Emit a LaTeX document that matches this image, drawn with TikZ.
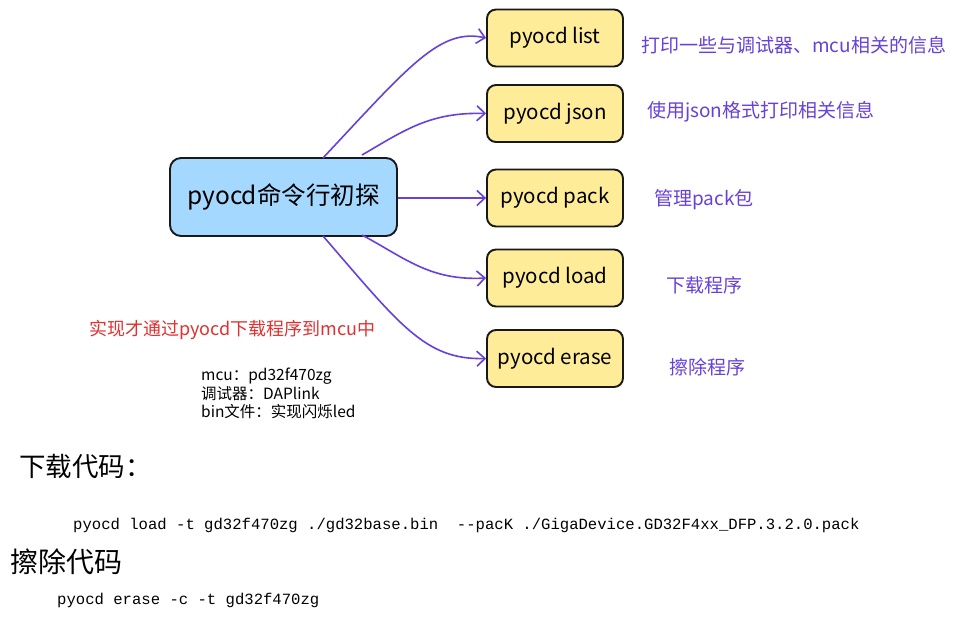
\documentclass[tikz,border=0pt]{standalone}
\usepackage{fontspec}
\setmainfont{Noto Sans CJK SC}
\newfontfamily\codefont{Liberation Mono}
\usetikzlibrary{arrows.meta}
\definecolor{bluefill}{HTML}{A5D8FF}
\definecolor{yellowfill}{HTML}{FFEC99}
\definecolor{violet}{HTML}{6741D9}
\definecolor{redtext}{HTML}{E03131}
\tikzset{
  mainbox/.style={draw=black!90, line width=1.9pt, rounded corners=11pt, fill=bluefill,
    minimum width=227pt, minimum height=78pt, inner sep=0pt, font=\fontsize{24.5}{27}\selectfont},
  cmdbox/.style={draw=black!90, line width=1.9pt, rounded corners=9pt, fill=yellowfill,
    minimum width=136pt, minimum height=57pt, inner sep=0pt, font=\fontsize{20.5}{23}\selectfont},
  conn/.style={draw=violet, line width=1.6pt, -{Straight Barb[length=8pt,width=15pt,line width=1.6pt]}},
  desc/.style={anchor=west, inner sep=0pt, text=violet, font=\fontsize{19}{22}\selectfont},
  note/.style={anchor=west, inner sep=0pt, text=redtext, font=\fontsize{18}{21}\selectfont},
  info/.style={anchor=north west, inner sep=0pt, align=left, font=\fontsize{15.5}{18.5}\selectfont},
  heading/.style={anchor=west, inner sep=0pt},
  code/.style={anchor=west, inner sep=0pt, font=\codefont\fontsize{15.6}{18}\selectfont},
}
\begin{document}
\begin{tikzpicture}[x=1pt,y=-1pt]
\useasboundingbox[fill=white] (0,0) rectangle (959,620);

\node[mainbox] (main) at (283.5,197) {pyocd命令行初探};

\node[cmdbox] (list)  at (555,38)    {pyocd list};
\node[cmdbox] (json)  at (555,113.5) {pyocd json};
\node[cmdbox] (pack)  at (555,198)   {pyocd pack};
\node[cmdbox] (load)  at (555,278)   {pyocd load};
\node[cmdbox] (erase) at (555,358.5) {pyocd erase};

\coordinate (s1) at (323,158);
\coordinate (s2) at (362,155);
\coordinate (s3) at (398,198);
\coordinate (s4) at (362,235);
\coordinate (s5) at (323,236);

\draw[conn] (s1) .. controls (410,65) and (440,28) .. (list.west);
\draw[conn] (s2) .. controls (405,130) and (430,112) .. (json.west);
\draw[conn] (s3) -- (pack.west);
\draw[conn] (s4) .. controls (405,258) and (430,281) .. (load.west);
\draw[conn] (s5) .. controls (400,325) and (425,360) .. (erase.west);

\node[desc] (d1) at (641,45)  {打印一些与调试器、mcu相关的信息};
\node[desc] (d2) at (647,112) {使用json格式打印相关信息};
\node[desc] (d3) at (654,200) {管理pack包};
\node[desc] (d4) at (666,285) {下载程序};
\node[desc] (d5) at (669,367) {擦除程序};

\node[note] (red) at (89,330) {实现才通过pyocd下载程序到mcu中};

\node[info] (inf) at (201,368) {mcu：pd32f470zg\\调试器：DAPlink\\bin文件：实现闪烁led};

\node[heading, font=\fontsize{26.5}{29}\selectfont] (h1) at (19,466) {下载代码：};
\node[code] (c1) at (73,525) {pyocd load -t gd32f470zg ./gd32base.bin\ \ --pacK ./GigaDevice.GD32F4xx\_DFP.3.2.0.pack};
\node[heading, font=\fontsize{28}{31}\selectfont] (h2) at (10,562) {擦除代码};
\node[code] (c2) at (57,600) {pyocd erase -c -t gd32f470zg};
\end{tikzpicture}
\end{document}
